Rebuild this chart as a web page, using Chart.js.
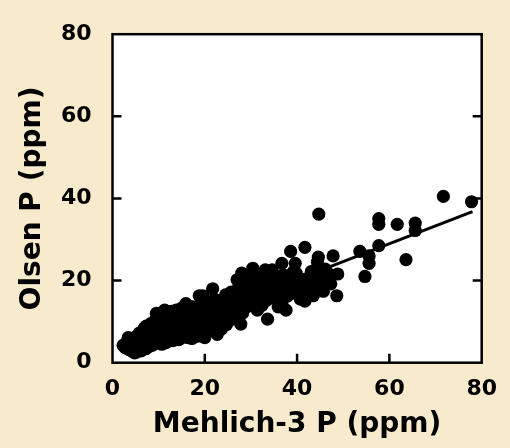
<!DOCTYPE html>
<html>
<head>
<meta charset="utf-8">
<title>Olsen P vs Mehlich-3 P</title>
<style>
  html, body { margin: 0; padding: 0; background: #f8eacc; }
</style>
</head>
<body>
<canvas id="scatter" width="510" height="448"></canvas>

<script src="https://cdn.jsdelivr.net/npm/chart.js@4.4.0/dist/chart.umd.min.js"></script>
<script>
// soil test values (ppm)
const mehlichP = [
  2.3, 2.8, 3.1, 3.4, 3.6, 3.9, 4.2, 4.4, 4.6,
  4.8, 5.0, 5.2, 5.3, 5.6, 5.8, 6.0, 6.2, 6.4, 6.6, 6.9, 7.0, 7.2, 7.3,
  7.5, 7.7, 7.9, 8.1, 8.3, 8.5, 8.7, 8.9, 9.1, 9.3, 9.5, 9.6, 9.8, 10.0, 10.1,
  10.3, 10.5, 10.7, 10.9, 11.1, 11.3, 11.4, 11.6, 11.8, 12.0, 12.2, 12.4, 12.6, 12.8, 13.0, 13.1, 13.3,
  13.6, 13.8, 14.0, 14.2, 14.4, 14.6, 14.8, 15.0, 15.2, 15.4, 15.6, 15.9, 16.0, 16.2, 16.4,
  16.6, 16.8, 17.0, 17.2, 17.4, 17.6, 17.8, 18.0, 18.3, 18.5, 18.8, 18.9, 19.1, 19.3, 19.5, 19.6, 19.8, 20.0, 20.0,
  20.3, 20.5, 20.7, 21.0, 21.2, 21.4, 21.7, 21.9, 22.1, 22.3, 22.5, 22.7, 22.9, 23.2, 23.4, 23.6, 23.8,
  24.1, 24.3, 24.5, 24.7, 25.0, 25.2, 25.5, 25.7, 26.0, 26.2, 26.5, 26.8, 27.0, 27.2, 27.4, 27.8, 27.9,
  28.0, 28.2, 28.4, 28.7, 28.9, 29.1, 29.4, 29.6, 29.9, 30.1, 30.4, 30.6, 30.8, 31.1, 31.4, 31.6, 31.9,
  32.1, 32.4, 32.6, 32.9, 33.1, 33.4, 33.6, 33.8, 34.1, 34.4, 34.6, 34.8, 35.1, 35.4, 35.7, 35.9,
  36.2, 36.5, 36.7, 36.7, 37.0, 37.3, 37.6, 37.9, 38.2, 38.6, 38.8, 39.1, 39.6, 39.8, 39.9,
  40.3, 40.7, 41.0, 41.3, 41.7, 41.7, 42.0, 42.4, 42.8, 43.1, 43.5, 43.8, 44.1, 44.4, 44.6, 44.6, 44.7, 44.9,
  45.4, 45.7, 46.1, 46.5, 47.0, 47.3, 47.8, 48.6, 48.8,
  53.6, 54.7, 55.6, 55.6, 57.7, 57.7, 57.7, 61.7, 63.6, 65.6, 65.6, 71.7, 77.8
];
const olsenP = [
  4.2, 3.6, 5.0, 6.1, 3.2, 4.6, 2.8, 5.4, 3.9,
  2.4, 6.3, 2.6, 4.4, 3.1, 7.2, 5.0, 2.9, 6.1, 3.8, 8.4, 4.6, 3.4, 8.9,
  6.5, 5.2, 3.9, 7.6, 9.5, 5.6, 4.3, 8.2, 6.8, 10.4, 12.0, 4.8, 7.4, 9.1, 5.9,
  11.2, 6.6, 4.5, 8.4, 12.4, 12.8, 7.1, 4.9, 10.0, 5.8, 11.6, 8.9, 6.3, 12.5, 9.7, 5.4, 7.8,
  11.1, 12.8, 6.7, 9.2, 5.6, 11.9, 8.0, 13.3, 10.4, 6.2, 7.3, 14.4, 9.0, 11.5, 6.1,
  12.7, 8.3, 10.2, 5.9, 13.6, 7.2, 11.0, 9.1, 6.4, 12.2, 16.3, 8.0, 10.6, 14.0, 6.5, 16.3, 12.0, 6.1, 9.4,
  11.2, 14.8, 7.8, 13.0, 10.1, 8.6, 18.0, 12.2, 15.5, 9.5, 11.5, 6.9, 13.6, 15.0, 10.4, 8.2, 12.7,
  14.2, 11.0, 16.5, 9.3, 13.0, 15.8, 11.8, 17.2, 14.0, 10.6, 16.3, 12.9, 20.2, 18.0, 14.8, 9.4, 16.6,
  21.8, 12.1, 17.8, 15.2, 19.4, 13.6, 18.2, 16.0, 20.5, 14.5, 23.0, 17.4, 19.2, 15.7, 12.8, 18.6, 20.8,
  16.8, 14.0, 19.6, 17.5, 22.6, 15.2, 10.6, 19.0, 17.0, 21.2, 22.6, 15.8, 18.4, 20.2, 16.6, 13.6,
  19.5, 17.6, 24.2, 14.4, 21.4, 18.4, 12.8, 16.2, 20.0, 27.1, 17.8, 22.0, 24.2, 21.8, 18.6,
  16.4, 15.5, 19.4, 17.2, 28.1, 15.0, 20.4, 18.2, 17.1, 22.2, 16.3, 19.6, 21.4, 24.5, 25.7, 23.4, 36.2, 18.8,
  20.6, 17.4, 22.8, 20.0, 21.5, 19.2, 26.0, 16.3, 21.6,
  27.1, 21.0, 26.0, 24.2, 28.5, 33.7, 35.1, 33.7, 25.1, 34.0, 32.2, 40.5, 39.2
];
// regression line end points
const fitX = [3, 78];
const fitY = [4.2, 36.8];
const axisTicks = [0, 20, 40, 60, 80];

const font = { family: 'DejaVu Sans', weight: 'bold' };

const frame = {
  id: 'frame',
  beforeDraw(chart) {
    const { ctx, chartArea: a } = chart;
    ctx.save();
    ctx.fillStyle = '#ffffff';
    ctx.fillRect(a.left, a.top, a.right - a.left, a.bottom - a.top);
    ctx.restore();
  },
  afterDraw(chart) {
    const { ctx, chartArea: a, scales: { x, y } } = chart;
    ctx.save();
    ctx.strokeStyle = '#000';
    ctx.lineWidth = 2.5;
    ctx.strokeRect(a.left, a.top, a.right - a.left, a.bottom - a.top);
    ctx.beginPath();
    axisTicks.slice(1, -1).forEach(v => {
      const px = x.getPixelForValue(v);
      ctx.moveTo(px, a.bottom); ctx.lineTo(px, a.bottom - 9);
      const py = y.getPixelForValue(v);
      ctx.moveTo(a.left, py); ctx.lineTo(a.left + 9, py);
      ctx.moveTo(a.right, py); ctx.lineTo(a.right - 9, py);
    });
    ctx.stroke();
    ctx.restore();
  }
};

new Chart(document.getElementById('scatter'), {
  type: 'scatter',
  data: {
    datasets: [
      {
        data: mehlichP.map((m, i) => ({ x: m, y: olsenP[i] })),
        backgroundColor: '#000',
        borderWidth: 0,
        pointRadius: 6.6,
        pointHoverRadius: 6.6
      },
      {
        type: 'line',
        data: fitX.map((m, i) => ({ x: m, y: fitY[i] })),
        borderColor: '#000',
        borderWidth: 3,
        pointRadius: 0,
        fill: false
      }
    ]
  },
  options: {
    responsive: false,
    animation: false,
    layout: { padding: { left: 0, right: 25.7, top: 22.7, bottom: 0 } },
    plugins: { legend: { display: false }, tooltip: { enabled: false } },
    scales: {
      x: {
        type: 'linear',
        min: 0, max: 80,
        grid: { display: false, drawTicks: false },
        border: { display: false },
        ticks: { stepSize: 20, padding: 13, color: '#000', font: { ...font, size: 22 } },
        title: { display: true, text: 'Mehlich-3 P (ppm)', color: '#000',
                 font: { ...font, size: 28 }, padding: { top: 0, bottom: 6 } },
        afterFit: s => { s.height = 85.3; }
      },
      y: {
        type: 'linear',
        min: 0, max: 80,
        grid: { display: false, drawTicks: false },
        border: { display: false },
        ticks: { stepSize: 20, padding: 21, color: '#000', font: { ...font, size: 22 } },
        title: { display: true, text: 'Olsen P (ppm)', color: '#000',
                 font: { ...font, size: 28 }, padding: { top: 16, bottom: 0 } },
        afterFit: s => { s.width = 112.5; }
      }
    }
  },
  plugins: [frame]
});
</script>
</body>
</html>
